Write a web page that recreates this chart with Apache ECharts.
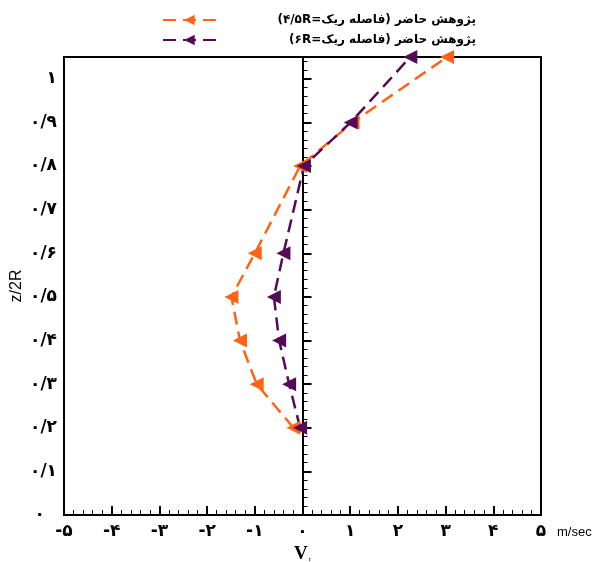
<!DOCTYPE html>
<html>
<head>
<meta charset="utf-8">
<script src="https://cdn.jsdelivr.net/npm/echarts@6/dist/echarts.min.js"></script>
<style>
  html, body { margin: 0; padding: 0; background: #fff; }
  #chart { width: 595px; height: 562px; }
</style>
</head>
<body>
<div id="chart"></div>
<script>
// Radial velocity profiles (m/sec) against normalised height z/2R
const heights = [0.2, 0.3, 0.4, 0.5, 0.6, 0.8, 0.9, 1.05];
const vrDist45 = [-0.19, -0.96, -1.31, -1.49, -1.0, -0.05, 1.05, 3.03];
const vrDist6 = [-0.05, -0.28, -0.49, -0.6, -0.4, 0.03, 1.01, 2.26];

const seriesNames = [
  'پژوهش حاضر (فاصله ریک=۴/۵R)',
  'پژوهش حاضر (فاصله ریک=۶R)'
];

const xTickLabels = ['-۵', '-۴', '-۳', '-۲', '-۱', '۰', '۱', '۲', '۳', '۴', '۵'];
const yTickLabels = ['۰', '۰/۱', '۰/۲', '۰/۳', '۰/۴', '۰/۵', '۰/۶', '۰/۷', '۰/۸', '۰/۹', '۱'];

const ORANGE = '#ff6414';
const PURPLE = '#550a58';

// Right-to-left embedding so the Persian captions lay out in reading order
const RLE = '\u202B', PDF = '\u202C';

function pairs(xs, ys) {
  return xs.map((x, i) => [x, ys[i]]);
}

const chart = echarts.init(document.getElementById('chart'), null, { renderer: 'canvas' });

const labelFont = { color: '#000', fontSize: 17, fontWeight: 'bold', fontFamily: 'DejaVu Sans' };

function makeSeries(name, xs, color, extra) {
  return Object.assign({
    name: name,
    type: 'line',
    data: pairs(xs, heights),
    symbol: 'triangle',
    symbolSize: 14,
    symbolRotate: 90,
    color: color,
    itemStyle: { color: color },
    lineStyle: { color: color, width: 2.5, type: [13, 7] },
    clip: false,
    z: 3
  }, extra || {});
}

chart.setOption({
  animation: false,
  backgroundColor: '#fff',
  grid: {
    left: 64, right: 54, top: 57, bottom: 47,
    outerBoundsMode: 'none',
    containLabel: false,
    show: true, borderColor: '#000', borderWidth: 2, backgroundColor: 'transparent'
  },
  legend: {
    orient: 'vertical',
    left: 157, top: 9,
    itemWidth: 53, itemHeight: 13, itemGap: 8,
    data: seriesNames,
    formatter: name => '{t|' + RLE + name + PDF + '}',
    textStyle: {
      rich: {
        t: { width: 255, align: 'right', fontSize: 12, fontWeight: 'bold',
             fontFamily: 'DejaVu Sans', color: '#000' }
      }
    }
  },
  xAxis: {
    type: 'value',
    min: -5, max: 5, interval: 1,
    name: '{v|V}{s|r}',
    nameLocation: 'middle',
    nameGap: 29,
    nameTextStyle: {
      rich: {
        v: { fontFamily: 'Liberation Serif', fontWeight: 'bold', fontSize: 19, color: '#000' },
        s: { fontFamily: 'Liberation Serif', fontSize: 7, color: '#000', padding: [10, 0, 0, 1] }
      }
    },
    axisLine: { show: true, lineStyle: { color: '#000', width: 2 } },
    axisTick: { show: true, inside: true, length: 9, lineStyle: { color: '#000', width: 2 } },
    minorTick: { show: true, splitNumber: 5, length: 5, lineStyle: { color: '#000', width: 1 } },
    splitLine: { show: false },
    axisLabel: Object.assign({
      margin: 8,
      formatter: v => {
        const i = Math.round(v + 5);
        return Math.abs(v + 5 - i) < 1e-6 ? xTickLabels[i] : '';
      }
    }, labelFont)
  },
  yAxis: {
    type: 'value',
    min: 0, max: 1.05, interval: 0.1,
    name: 'z/2R',
    nameLocation: 'middle',
    nameGap: 39,
    nameMoveOverlap: false,
    nameRotate: 90,
    nameTextStyle: { fontFamily: 'Liberation Sans', fontSize: 16, color: '#000' },
    axisLine: { show: true, lineStyle: { color: '#000', width: 2 } },
    axisTick: { show: true, inside: true, length: 9, lineStyle: { color: '#000', width: 2 } },
    minorTick: { show: true, splitNumber: 5, length: 5, lineStyle: { color: '#000', width: 1 } },
    splitLine: { show: false },
    axisLabel: Object.assign({
      margin: 7,
      formatter: v => {
        const i = Math.round(v * 10);
        if (Math.abs(v * 10 - i) > 1e-6 || i > 10) return '';
        return i === 0 ? '{z|' + yTickLabels[0] + '}' : yTickLabels[i];
      },
      rich: {
        z: { fontSize: 17, fontWeight: 'bold', fontFamily: 'DejaVu Sans', color: '#000', padding: [0, 12, 0, 0] }
      }
    }, labelFont)
  },
  graphic: [
    {
      type: 'text',
      left: 557, top: 526,
      style: { text: 'm/sec', fontFamily: 'Liberation Sans', fontSize: 13, fill: '#000' }
    }
  ],
  series: [
    makeSeries(seriesNames[0], vrDist45, ORANGE, {
      markLine: {
        silent: true,
        symbol: 'none',
        label: { show: false },
        lineStyle: { color: '#000', width: 1.5, type: 'solid' },
        data: [{ xAxis: 0 }],
        z: 1
      }
    }),
    makeSeries(seriesNames[1], vrDist6, PURPLE)
  ]
});
</script>
</body>
</html>
